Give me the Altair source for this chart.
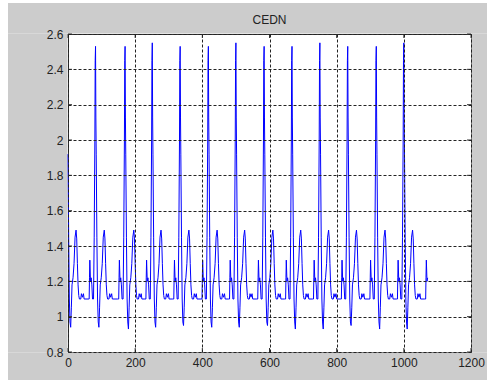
import altair as alt
import pandas as pd

# ---- values ----
# sample index of each R peak (the first one lies just before sample 0,
# the last one just after the end of the record)
r_peaks = [-2, 82, 170, 251, 334, 418, 500, 584, 667, 750, 833, 918, 1000, 1084]
# R-peak heights and S-trough depths, beat by beat
peak_values = [2.55, 2.53, 2.53, 2.55, 2.53, 2.53, 2.55, 2.53, 2.53, 2.55, 2.53, 2.53, 2.55, 2.53]
trough_values = [0.94, 0.94, 0.93, 0.94, 0.95, 0.94, 0.94, 0.95, 0.93, 0.93, 0.95, 0.93, 0.93, 0.94]
# shape of one beat: offset from the R peak -> value
# (None = beat-specific R peak / S trough from the lists above)
beat_offsets = [-22, -19, -18, -17, -15, -13, -11, -9, -6, -4, -2, -1, 0, 1, 2, 4, 6, 8, 10,
                12, 14, 17, 20, 23, 26, 28, 30, 32, 34, 36, 40, 42, 45, 48, 50]
beat_values = [1.10, 1.10, 1.22, 1.32, 1.20, 1.22, 1.18, 1.10, 1.10, 1.45, 2.00, 2.45, None, 2.13, 1.92, 1.45, 1.10, 0.97, None,
               1.05, 1.18, 1.22, 1.30, 1.45, 1.49, 1.44, 1.30, 1.18, 1.12, 1.10, 1.10, 1.13, 1.11, 1.13, 1.10]
last_sample = 1072

title_text = "CEDN"
x_ticks = [0, 200, 400, 600, 800, 1000, 1200]
y_ticks = [0.8, 1.0, 1.2, 1.4, 1.6, 1.8, 2.0, 2.2, 2.4, 2.6]

# ---- build the series ----
rows = []
for r, pk, tr in zip(r_peaks, peak_values, trough_values):
    for o, v in zip(beat_offsets, beat_values):
        t = r + o
        if v is None:
            v = pk if o == 0 else tr
        if 0 <= t <= last_sample:
            rows.append({"x": t, "y": v})
signal = pd.DataFrame(rows).sort_values("x")

W, H = 403, 318
GRAY = "#cccccc"
AX = "#333333"
FONT = "Liberation Sans"

xscale = alt.Scale(domain=[0, 1200], nice=False, zero=False)
yscale = alt.Scale(domain=[0.8, 2.6], nice=False, zero=False)
xaxis = alt.Axis(values=x_ticks, format="d", grid=True, zindex=1, title=None)
yaxis = alt.Axis(values=y_ticks, format="~g", grid=True, zindex=1, title=None)

one = alt.Data(values=[{"a": 1}])


def band(x1, x2, y1, y2):
    return alt.Chart(one).mark_rect(color=GRAY, opacity=1).encode(
        x=alt.value(x1), x2=alt.value(x2), y=alt.value(y1), y2=alt.value(y2)
    )


frame = [
    band(-60, W + 16, -31, -0.5),
    band(-60, W + 16, H + 0.5, H + 28),
    band(-60, -0.5, -0.5, H + 0.5),
    band(W + 0.5, W + 16, -0.5, H + 0.5),
]

line = alt.Chart(signal).mark_line(color="#0000ff", strokeWidth=1).encode(
    x=alt.X("x:Q", scale=xscale, axis=xaxis, title=None),
    y=alt.Y("y:Q", scale=yscale, axis=yaxis, title=None),
)

xt = pd.DataFrame({"x": x_ticks})
yt = pd.DataFrame({"y": y_ticks})
ticks = [
    alt.Chart(xt).mark_rule(color=AX).encode(x=alt.X("x:Q", scale=xscale, axis=xaxis, title=None), y=alt.value(H), y2=alt.value(H - 4)),
    alt.Chart(xt).mark_rule(color=AX).encode(x=alt.X("x:Q", scale=xscale, axis=xaxis, title=None), y=alt.value(0), y2=alt.value(4)),
    alt.Chart(yt).mark_rule(color=AX).encode(y=alt.Y("y:Q", scale=yscale, axis=yaxis, title=None), x=alt.value(0), x2=alt.value(4)),
    alt.Chart(yt).mark_rule(color=AX).encode(y=alt.Y("y:Q", scale=yscale, axis=yaxis, title=None), x=alt.value(W), x2=alt.value(W - 4)),
]

title = alt.Chart(one).mark_text(
    font=FONT, fontSize=12, color="#222222", align="center", baseline="alphabetic"
).encode(x=alt.value(W / 2), y=alt.value(-10), text=alt.value(title_text))

chart = alt.layer(*frame, line, *ticks, title).properties(
    width=W,
    height=H,
    autosize=alt.AutoSizeParams(type="none"),
    padding={"left": 68, "top": 34, "right": 25, "bottom": 31},
    background="white",
).configure_view(
    fill="white", stroke=AX, strokeWidth=1
).configure_axis(
    labelFont=FONT, labelFontSize=12, labelColor="#222222",
    domain=False, ticks=False, tickSize=0, labelPadding=5,
    labelFlush=False, labelOverlap=False, labelBound=False,
    gridColor="#222222", gridDash=[3, 2], gridWidth=1, gridOpacity=1,
)

chart.save("out.html", embed_options={"renderer": "svg", "actions": False})
